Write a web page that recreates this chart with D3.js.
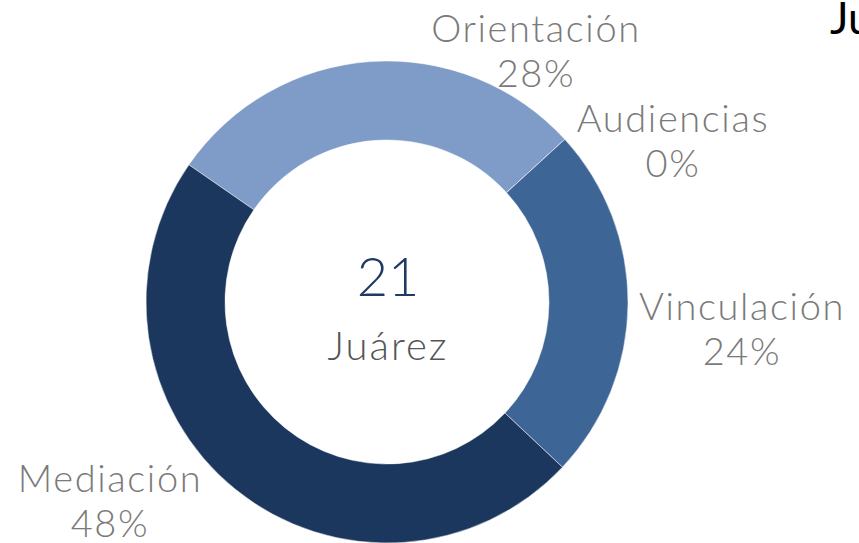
<!DOCTYPE html>
<html><head><meta charset="utf-8">
<script src="https://cdn.jsdelivr.net/npm/d3@7"></script>
<style>html,body{margin:0;padding:0;background:#fff;overflow:hidden}</style>
</head><body>
<svg id="c" width="859" height="543"></svg>
<script>
const categories = ["Orientación", "Audiencias", "Vinculación", "Mediación"];
const counts = [6, 0, 5, 10];
const percentLabels = ["28%", "0%", "24%", "48%"];
const colors = ["#7f9bc7", "#5a7fb0", "#3d6596", "#1b375e"];
const totalValue = 21;
const centerName = "Juárez";
const titleText = "Juárez";

const W = 859, H = 543;
const cx = 387, cy = 302, R = 241, r = 162;
const svg = d3.select("#c");
const font = "Lato, 'Century Gothic', sans-serif";

const pie = d3.pie().sort(null).value(d => d)
  .startAngle(-55.3 * Math.PI / 180)
  .endAngle((360 - 55.3) * Math.PI / 180);
const arc = d3.arc().innerRadius(r).outerRadius(R);
const g = svg.append("g").attr("transform", `translate(${cx},${cy})`);
g.selectAll("path").data(pie(counts)).join("path")
  .attr("d", arc).attr("fill", (d, i) => colors[i])
  .attr("stroke", "#fff").attr("stroke-width", 0.5);

// label positions (centre x, first baseline)
const labelPos = [[536, 42], [673, 132], [742, 320], [110, 492]];
const lineGap = 45;
categories.forEach((c, i) => {
  const t = svg.append("text").attr("text-anchor", "middle")
    .attr("font-family", font).attr("font-weight", 300).attr("font-size", 38)
    .attr("letter-spacing", 1.6).attr("fill", "#7a7a7a");
  t.append("tspan").attr("x", labelPos[i][0]).attr("y", labelPos[i][1]).text(c);
  t.append("tspan").attr("x", labelPos[i][0]).attr("y", labelPos[i][1] + lineGap).text(percentLabels[i]);
});

svg.append("text").attr("x", cx + 1).attr("y", 296).attr("text-anchor", "middle")
  .attr("font-family", font).attr("font-weight", 300).attr("font-size", 54)
  .attr("fill", "#1f3a63").text(totalValue);
svg.append("text").attr("x", cx + 1).attr("y", 360).attr("text-anchor", "middle")
  .attr("font-family", font).attr("font-weight", 300).attr("font-size", 40)
  .attr("letter-spacing", 2).attr("fill", "#555555").text(centerName);

svg.append("text").attr("x", 830).attr("y", 34)
  .attr("font-family", font).attr("font-weight", 400).attr("font-size", 44)
  .attr("fill", "#000").text(titleText);
</script>
</body></html>
